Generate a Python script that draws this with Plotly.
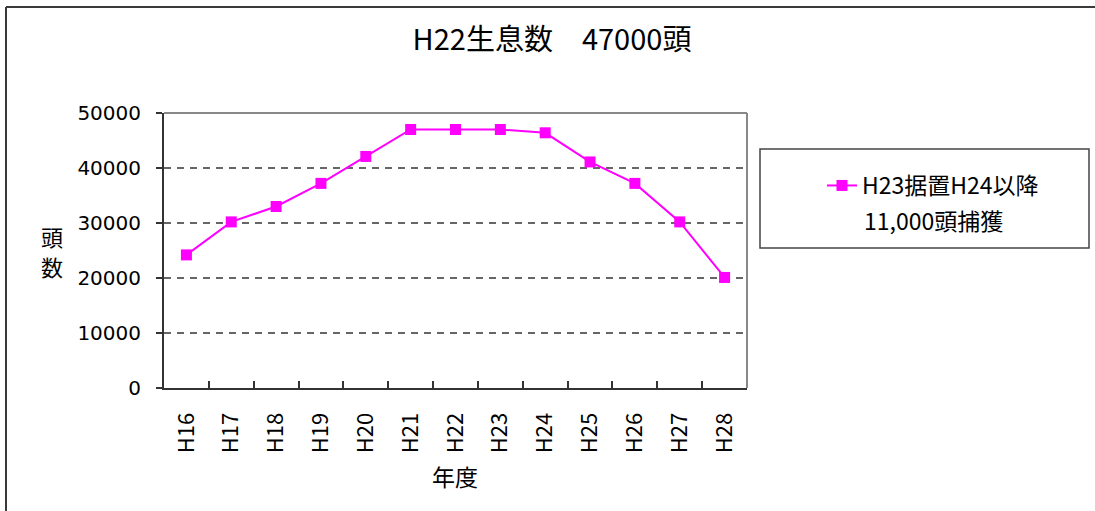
import plotly.graph_objects as go

# Fiscal years and estimated population (head count)
years = ["H16", "H17", "H18", "H19", "H20", "H21", "H22",
         "H23", "H24", "H25", "H26", "H27", "H28"]
population = [24200, 30200, 33000, 37200, 42100, 47000, 47000,
              47000, 46400, 41100, 37200, 30200, 20100]
series_name = "H23据置H24以降"
series_note = "11,000頭捕獲"
chart_title = "H22生息数\u300047000頭"
y_ticks = [0, 10000, 20000, 30000, 40000, 50000]

W, H = 1095, 511
L, R, T, B = 164, 747, 113, 388  # plot area in pixels


def px(x):
    return (x - L) / (R - L)


def py(y):
    return (B - y) / (B - T)


CJK = "Noto Sans CJK JP"

fig = go.Figure()
fig.add_trace(go.Scatter(
    x=years, y=population, name=series_name,
    mode="lines+markers",
    line=dict(color="#FF00FF", width=2),
    marker=dict(symbol="square", size=11, color="#FF00FF"),
))

shapes = [
    # outer frame (left and top edges)
    dict(type="line", xref="paper", yref="paper", x0=px(6), x1=px(6),
         y0=py(7), y1=py(520), line=dict(color="#3a3a3a", width=2)),
    dict(type="line", xref="paper", yref="paper", x0=px(6), x1=px(1100),
         y0=py(7), y1=py(7), line=dict(color="#3a3a3a", width=2)),
    # plot area top and right edges
    dict(type="line", xref="paper", yref="paper", x0=0, x1=1, y0=1, y1=1,
         line=dict(color="#888888", width=2), layer="above"),
    dict(type="line", xref="paper", yref="paper", x0=1, x1=1, y0=0, y1=1,
         line=dict(color="#888888", width=2), layer="above"),
    # legend frame
    dict(type="rect", xref="paper", yref="paper", x0=px(760), x1=px(1089),
         y0=py(248), y1=py(149), line=dict(color="#444444", width=1.5)),
]

annotations = [
    dict(text="頭", xref="paper", yref="paper", x=px(52), y=py(236),
         xanchor="center", yanchor="middle", showarrow=False,
         font=dict(family=CJK, size=22, color="#000")),
    dict(text="数", xref="paper", yref="paper", x=px(52), y=py(266),
         xanchor="center", yanchor="middle", showarrow=False,
         font=dict(family=CJK, size=22, color="#000")),
    dict(text="年度", xref="paper", yref="paper", x=px(455), y=py(476),
         xanchor="center", yanchor="middle", showarrow=False,
         font=dict(family=CJK, size=23, color="#000")),
    # second line of the legend entry
    dict(text=series_note, xref="paper", yref="paper", x=px(862), y=py(220),
         xanchor="left", yanchor="middle", showarrow=False,
         font=dict(family=CJK, size=23, color="#000")),
]

fig.update_layout(
    width=W, height=H,
    margin=dict(l=L, r=W - R, t=T, b=H - B, pad=0),
    paper_bgcolor="white", plot_bgcolor="white",
    font=dict(family=CJK, color="#000"),
    title=dict(text=chart_title, xref="container", yref="container",
               x=552 / W, y=1 - 40 / H, xanchor="center", yanchor="middle",
               font=dict(family=CJK, size=29, color="#000")),
    showlegend=True,
    legend=dict(x=px(822), y=py(164), xanchor="left", yanchor="top",
                bgcolor="rgba(0,0,0,0)", borderwidth=0, valign="middle",
                font=dict(family=CJK, size=23, color="#000")),
    shapes=shapes,
    annotations=annotations,
)

fig.update_xaxes(
    type="category", range=[-0.5, len(years) - 0.5],
    tickangle=-90, tickson="boundaries",
    ticks="inside", ticklen=7, tickcolor="#333", tickwidth=1.5,
    showline=True, linecolor="#333", linewidth=2,
    showgrid=False, ticklabelstandoff=14,
    tickfont=dict(family=CJK, size=22, color="#000"),
)
fig.update_yaxes(
    range=[0, 50000], tickvals=y_ticks, tickformat="d",
    ticks="outside", ticklen=6, tickcolor="#333", tickwidth=1.5,
    showline=True, linecolor="#333", linewidth=2,
    showgrid=True, gridcolor="#666666", gridwidth=1.5, griddash="7px,6px",
    zeroline=False, ticklabelstandoff=11,
    tickfont=dict(family="DejaVu Sans, " + CJK, size=20, color="#000"),
)

fig.write_html("out.html")
